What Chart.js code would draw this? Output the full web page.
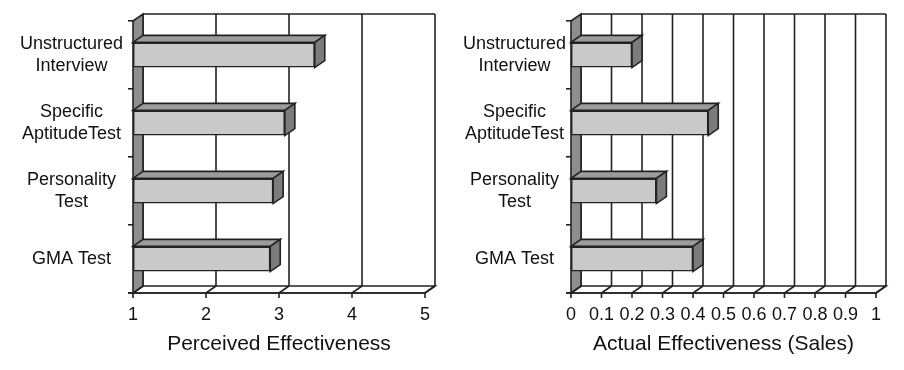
<!DOCTYPE html>
<html>
<head>
<meta charset="utf-8">
<script src="https://cdn.jsdelivr.net/npm/chart.js@4"></script>
<style>
  body { margin: 0; background: #fff; }
  #wrap { position: relative; width: 904px; height: 370px; }
  #left { position: absolute; left: 0; top: 0; }
  #right { position: absolute; left: 450px; top: 0; }
</style>
</head>
<body>
<div id="wrap">
  <canvas id="left" width="450" height="370"></canvas>
  <canvas id="right" width="454" height="370"></canvas>
</div>
<script>
const categories = [['Unstructured', 'Interview'], ['Specific', 'AptitudeTest'], ['Personality', 'Test'], 'GMA Test'];
const perceivedValues = [3.49, 3.08, 2.92, 2.88];
const actualValues = [0.20, 0.45, 0.28, 0.40];
const perceivedTicks = ['1', '2', '3', '4', '5'];
const actualTicks = ['0', '0.1', '0.2', '0.3', '0.4', '0.5', '0.6', '0.7', '0.8', '0.9', '1'];

const DX = 10, DY = 7;
const EDGE = '#222';
const LW = 1.6;

Chart.defaults.font.family = "'Liberation Sans', Arial, sans-serif";
Chart.defaults.color = '#111';

const line = (ctx, x1, y1, x2, y2) => {
    ctx.beginPath();
    ctx.moveTo(x1, y1);
    ctx.lineTo(x2, y2);
    ctx.stroke();
};

const poly = (ctx, pts, fill) => {
    ctx.beginPath();
    ctx.moveTo(pts[0][0], pts[0][1]);
    pts.slice(1).forEach(p => ctx.lineTo(p[0], p[1]));
    ctx.closePath();
    if (fill) {
        ctx.fillStyle = fill;
        ctx.fill();
    }
    ctx.stroke();
};

// back wall, floor and left wall of the 3d box
const box3d = {
    id: 'box3d',
    beforeDatasetsDraw(chart) {
        const { ctx, chartArea: a, scales: { x } } = chart;
        ctx.save();
        ctx.lineWidth = LW;
        ctx.strokeStyle = EDGE;

        ctx.fillStyle = '#fff';
        ctx.fillRect(a.left + DX, a.top - DY, a.right - a.left, a.bottom - a.top);
        x.ticks.forEach(t => {
            const px = x.getPixelForValue(t.value) + DX;
            line(ctx, px, a.top - DY, px, a.bottom - DY);
        });
        line(ctx, a.left + DX, a.top - DY, a.right + DX, a.top - DY);

        poly(ctx, [[a.left, a.bottom], [a.left + DX, a.bottom - DY], [a.right + DX, a.bottom - DY], [a.right, a.bottom]], '#fff');
        x.ticks.forEach(t => {
            const px = x.getPixelForValue(t.value);
            line(ctx, px + DX, a.bottom - DY, px, a.bottom);
            line(ctx, px, a.bottom, px, a.bottom + 5);
        });

        poly(ctx, [[a.left, a.top], [a.left + DX, a.top - DY], [a.left + DX, a.bottom - DY], [a.left, a.bottom]], '#8e8e8e');
        line(ctx, a.left - 5, a.bottom, a.right, a.bottom);
        ctx.restore();
    },
    afterDatasetsDraw(chart) {
        const { ctx } = chart;
        ctx.save();
        ctx.lineWidth = LW;
        ctx.strokeStyle = EDGE;
        chart.getDatasetMeta(0).data.forEach(bar => {
            const { x, y, base, height } = bar.getProps(['x', 'y', 'base', 'height'], true);
            const t = y - height / 2, b = y + height / 2;
            poly(ctx, [[base, t], [base + DX, t - DY], [x + DX, t - DY], [x, t]], '#9c9c9c');
            poly(ctx, [[x, t], [x + DX, t - DY], [x + DX, b - DY], [x, b]], '#7c7c7c');
        });
        ctx.restore();
    }
};

const makeChart = (id, values, tickLabels, min, max, step, title, axisWidth, padRight, labelPad) => {
    return new Chart(document.getElementById(id), {
        type: 'bar',
        data: {
            labels: categories,
            datasets: [{
                data: values,
                base: min,
                backgroundColor: '#c9c9c9',
                borderColor: EDGE,
                borderWidth: LW,
                borderSkipped: false,
                barPercentage: 0.37,
                categoryPercentage: 1
            }]
        },
        options: {
            indexAxis: 'y',
            responsive: false,
            animation: false,
            layout: { padding: { top: 21, right: padRight, left: 0, bottom: 0 } },
            plugins: { legend: { display: false }, tooltip: { enabled: false } },
            scales: {
                x: {
                    min: min,
                    max: max,
                    afterFit: s => { s.height = 77; },
                    grid: { display: false },
                    border: { display: false },
                    ticks: {
                        stepSize: step,
                        padding: 3,
                        maxRotation: 0,
                        autoSkip: false,
                        font: { size: 18 },
                        callback: (v, i) => tickLabels[i]
                    },
                    title: {
                        display: true,
                        text: title,
                        font: { size: 21 },
                        padding: { top: 0, bottom: 13 }
                    }
                },
                y: {
                    afterFit: s => { s.width = axisWidth; },
                    grid: { drawOnChartArea: false, tickLength: 5, color: EDGE, lineWidth: LW, offset: true },
                    border: { display: false },
                    ticks: {
                        crossAlign: 'center',
                        padding: labelPad,
                        font: { size: 18, lineHeight: 1.24 }
                    }
                }
            }
        },
        plugins: [box3d]
    });
};

makeChart('left', perceivedValues, perceivedTicks, 1, 5, 1, 'Perceived Effectiveness', 133, 25, 5);
makeChart('right', actualValues, actualTicks, 0, 1, 0.1, 'Actual Effectiveness (Sales)', 121, 28, 0);
</script>
</body>
</html>
